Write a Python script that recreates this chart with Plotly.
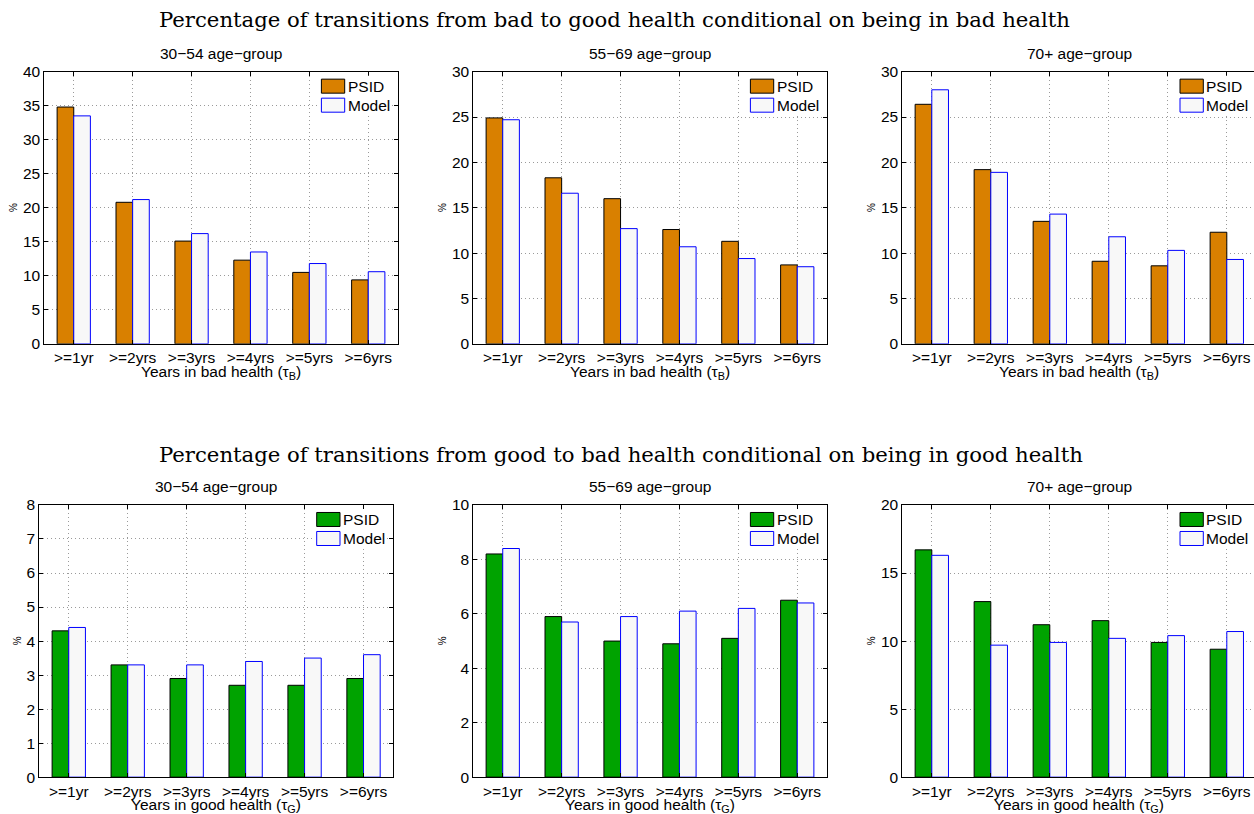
import plotly.graph_objects as go

# ---- data -------------------------------------------------------------
tick_labels = [">=1yr", ">=2yrs", ">=3yrs", ">=4yrs", ">=5yrs", ">=6yrs"]
age_groups = ["30\u221254 age\u2212group", "55\u221269 age\u2212group", "70+ age\u2212group"]
series_names = ["PSID", "Model"]

# bad -> good health, conditional on being in bad health
b2g_psid_30_54 = [34.8, 20.8, 15.1, 12.3, 10.5, 9.4]
b2g_model_30_54 = [33.5, 21.2, 16.2, 13.5, 11.8, 10.6]
b2g_psid_55_69 = [24.9, 18.3, 16.0, 12.6, 11.3, 8.7]
b2g_model_55_69 = [24.7, 16.6, 12.7, 10.7, 9.4, 8.5]
b2g_psid_70 = [26.4, 19.2, 13.5, 9.1, 8.6, 12.3]
b2g_model_70 = [28.0, 18.9, 14.3, 11.8, 10.3, 9.3]

# good -> bad health, conditional on being in good health
g2b_psid_30_54 = [4.3, 3.3, 2.9, 2.7, 2.7, 2.9]
g2b_model_30_54 = [4.4, 3.3, 3.3, 3.4, 3.5, 3.6]
g2b_psid_55_69 = [8.2, 5.9, 5.0, 4.9, 5.1, 6.5]
g2b_model_55_69 = [8.4, 5.7, 5.9, 6.1, 6.2, 6.4]
g2b_psid_70 = [16.7, 12.9, 11.2, 11.5, 9.9, 9.4]
g2b_model_70 = [16.3, 9.7, 9.9, 10.2, 10.4, 10.7]

y_ranges = [40, 30, 30, 8, 10, 20]
y_dticks = [5, 5, 5, 1, 2, 5]

row_titles = [
    "Percentage of transitions from bad to good health conditional on being in bad health",
    "Percentage of transitions from good to bad health conditional on being in good health",
]
x_titles = ["Years in bad health (\u03c4<sub>B</sub>)", "Years in good health (\u03c4<sub>G</sub>)"]

# ---- styling ----------------------------------------------------------
W, H = 1254, 826
# vertical placement: page rows are laid out with this offset and scale
Y_OFF, Y_SCALE = 9.4, 0.9787
ORANGE = "#D98000"
GREEN = "#00A300"
MODEL_FILL = "#F8F8F8"
MODEL_EDGE = "#0000FF"
SANS = "Liberation Sans, Arial, sans-serif"
SERIF = "DejaVu Serif, serif"
FS = 15.5
UNIT = 59.0               # pixels per category slot

# panel boxes in page pixels: (left, right, top, bottom); the right column
# runs past the page edge, so it is cut at the figure's right border
panel_px = [
    (44.3, 397.7, 72, 344), (473.3, 826.7, 72, 344), (902.3, 1256.3, 72, 344),
    (39.3, 393.0, 505, 777), (473.3, 826.7, 505, 777), (902.3, 1256.3, 505, 777),
]
# horizontal gap between y axis line and the "%" label
ylabel_gap = [31, 31, 31, 22, 31, 31]

panels = [
    (b2g_psid_30_54, b2g_model_30_54, ORANGE),
    (b2g_psid_55_69, b2g_model_55_69, ORANGE),
    (b2g_psid_70, b2g_model_70, ORANGE),
    (g2b_psid_30_54, g2b_model_30_54, GREEN),
    (g2b_psid_55_69, g2b_model_55_69, GREEN),
    (g2b_psid_70, g2b_model_70, GREEN),
]


def px_x(v):
    return min(v, W) / W


def px_y(v):
    return 1 - ((v - Y_OFF) / Y_SCALE) / H


fig = go.Figure()
layout = dict(
    width=W, height=H,
    margin=dict(l=0, r=0, t=0, b=0),
    paper_bgcolor="white", plot_bgcolor="white",
    barmode="group", bargap=0.435, bargroupgap=0,
    font=dict(family=SANS, size=FS, color="black"),
    showlegend=False,
    annotations=[], shapes=[],
)
ann = layout["annotations"]
shp = layout["shapes"]

for i, (psid, model, color) in enumerate(panels):
    n = i + 1
    sfx = "" if n == 1 else str(n)
    xa, ya = "x" + sfx, "y" + sfx
    left, right, top, bottom = panel_px[i]
    clipped = right > W
    vis_right = min(right, W)

    fig.add_trace(go.Bar(
        x=tick_labels, y=psid, name=series_names[0], xaxis=xa, yaxis=ya,
        marker=dict(color=color, line=dict(color="black", width=1)),
        hoverinfo="skip",
    ))
    fig.add_trace(go.Bar(
        x=tick_labels, y=model, name=series_names[1], xaxis=xa, yaxis=ya,
        marker=dict(color=MODEL_FILL, line=dict(color=MODEL_EDGE, width=1)),
        hoverinfo="skip",
    ))

    common = dict(
        showline=True, linecolor="black", linewidth=1,
        ticks="inside", ticklen=4, tickcolor="black", tickwidth=1,
        showgrid=True, gridcolor="#9A9A9A", griddash="1px,3px", gridwidth=1,
        zeroline=False, tickfont=dict(family=SANS, size=FS, color="black"),
        fixedrange=True,
    )
    layout["xaxis" + sfx] = dict(
        common, mirror="ticks", domain=[px_x(left), px_x(vis_right)],
        anchor=ya, type="category",
        range=[-0.5, 5.5 - (right - vis_right) / UNIT],
    )
    layout["yaxis" + sfx] = dict(
        common, mirror=False if clipped else "ticks",
        domain=[px_y(bottom), px_y(top)], anchor=xa,
        range=[0, y_ranges[i]], dtick=y_dticks[i],
    )

    # legend box with PSID / Model keys in the upper right corner
    shp.append(dict(
        type="rect", xref="paper", yref="paper", layer="above",
        x0=px_x(right - 78), x1=px_x(right - 8),
        y0=px_y(top + 43), y1=px_y(top + 4),
        fillcolor="white", line=dict(width=0),
    ))
    keys = [(color, "black", 7.5, 21.5), (MODEL_FILL, MODEL_EDGE, 26.5, 40.5)]
    for name, (fill, edge, k0, k1) in zip(series_names, keys):
        shp.append(dict(
            type="rect", xref="paper", yref="paper", layer="above",
            x0=px_x(right - 76.3), x1=px_x(right - 53),
            y0=px_y(top + k1), y1=px_y(top + k0),
            fillcolor=fill, line=dict(color=edge, width=1),
        ))
        ann.append(dict(
            text=name, xref="paper", yref="paper",
            x=px_x(right - 52), y=px_y(top + (k0 + k1) / 2),
            xanchor="left", yanchor="middle", showarrow=False,
            font=dict(family=SANS, size=FS, color="black"),
        ))

    # panel title
    ann.append(dict(
        text=age_groups[i % 3], xref="paper", yref="paper",
        x=px_x((left + right) / 2), y=px_y(top - 18),
        xanchor="center", yanchor="middle", showarrow=False,
        font=dict(family=SANS, size=FS, color="black"),
    ))
    # x axis title
    ann.append(dict(
        text=x_titles[i // 3], xref="paper", yref="paper",
        x=px_x((left + right) / 2), y=px_y(bottom + 17),
        xanchor="center", yanchor="top", showarrow=False,
        font=dict(family=SANS, size=FS, color="black"),
    ))
    # y axis title
    ann.append(dict(
        text="%", xref="paper", yref="paper", textangle=-90,
        x=px_x(left - ylabel_gap[i]), y=px_y((top + bottom) / 2),
        xanchor="center", yanchor="middle", showarrow=False,
        font=dict(family=SANS, size=10, color="black"),
    ))

for txt, ypx in zip(row_titles, [20, 455]):
    ann.append(dict(
        text=txt, xref="paper", yref="paper",
        x=px_x(157), y=px_y(ypx), xanchor="left", yanchor="middle",
        showarrow=False, font=dict(family=SERIF, size=21.2, color="black"),
    ))

fig.update_layout(**layout)
fig.write_html("out.html", config={"displayModeBar": False})
